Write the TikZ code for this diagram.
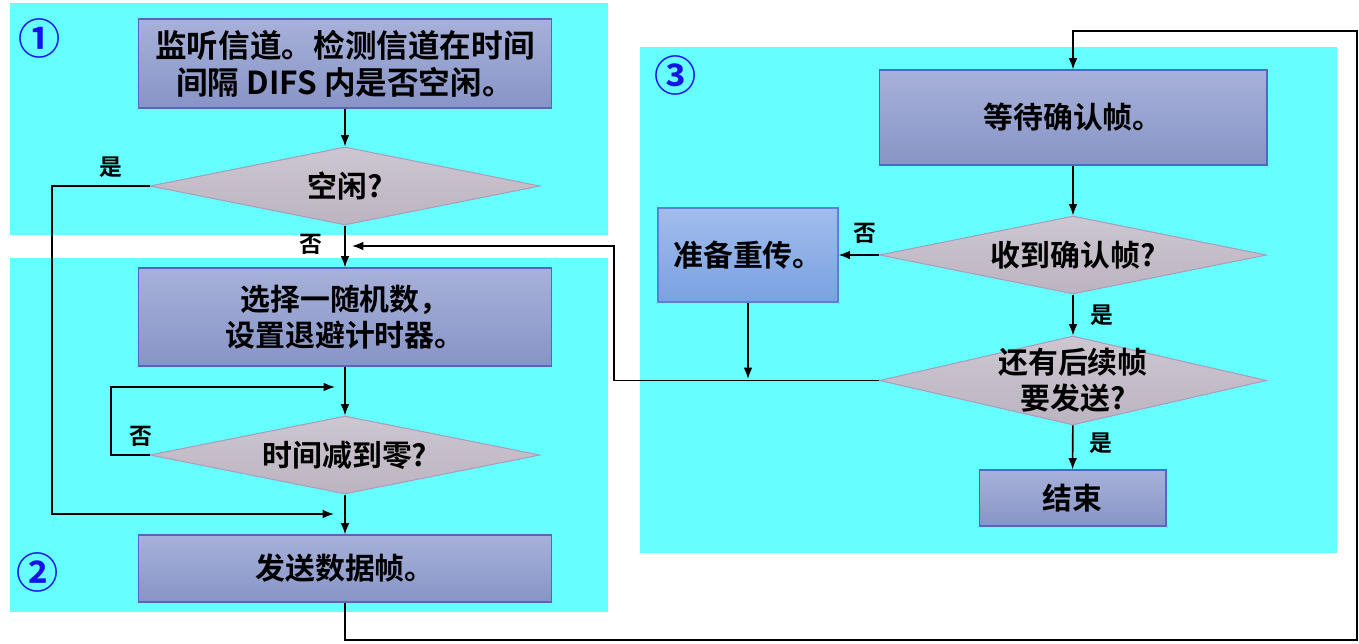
\documentclass[tikz,border=0pt]{standalone}
\usepackage{fontspec}
\setmainfont{Noto Sans CJK SC}[BoldFont={Noto Sans CJK SC Bold}]
\usepackage{xcolor}
\usepackage{tikz}
\usetikzlibrary{shapes.geometric, arrows.meta, positioning, calc}
\definecolor{PanelCyan}{HTML}{66FFFF}
\definecolor{BoxTop}{HTML}{A7B1D9}
\definecolor{BoxBottom}{HTML}{8794C6}
\definecolor{BoxLine}{HTML}{5566C0}
\definecolor{RetryTop}{HTML}{A2BDEB}
\definecolor{RetryBottom}{HTML}{7AA1E2}
\definecolor{RetryLine}{HTML}{5A80D8}
\definecolor{DecTop}{HTML}{CDC7D1}
\definecolor{DecBottom}{HTML}{BCB4C0}
\definecolor{DecLine}{HTML}{A99EBC}
\definecolor{NumBlue}{HTML}{1414E6}
\tikzset{
  panel/.style={fill=PanelCyan, draw=none},
  procbox/.style={rectangle, top color=BoxTop, bottom color=BoxBottom, draw=BoxLine, line width=0.6pt,
    align=center, inner sep=0pt, font=\fontsize{17}{20.5}\selectfont\bfseries},
  retrybox/.style={procbox, top color=RetryTop, bottom color=RetryBottom, draw=RetryLine},
  decbox/.style={diamond, top color=DecTop, bottom color=DecBottom, draw=DecLine, line width=0.6pt, inner sep=0pt},
  dectext/.style={align=center, font=\fontsize{17}{20.5}\selectfont\bfseries},
  yesno/.style={font=\fontsize{13}{15}\selectfont\bfseries},
  stepnum/.style={text=NumBlue, font=\fontsize{24}{26}\selectfont\bfseries},
  arr/.style={-{Latex[length=6.5pt,width=5pt]}, line width=0.9pt},
  wire/.style={line width=0.9pt}
}

\begin{document}
\begin{tikzpicture}[x=0.02cm, y=-0.02cm]
        \useasboundingbox (0,0) rectangle (1359,644);
        % Background panels
        \fill[panel] (10,3) rectangle (608,235);
        \fill[panel] (10,258) rectangle (608,612);
        \fill[panel] (640,47) rectangle (1337,553);
        \node[stepnum] (n1) at (40,38) {①};
        \node[stepnum] (n2) at (38,572) {②};
        \node[stepnum] (n3) at (676,75) {③};

        % Step 1 and 2 - sender side
        \node[procbox, minimum width=8.28cm, minimum height=1.78cm, font=\fontsize{18}{21}\selectfont\bfseries] (listen) at (345,63.5) {监听信道。检测信道在时间\\间隔 DIFS 内是否空闲。};
        \node[decbox, minimum width=7.8cm, minimum height=1.56cm, label={[dectext]center:空闲?}] (idle) at (345,186) {};
        \node[procbox, minimum width=8.28cm, minimum height=1.96cm] (backoff) at (345,317) {选择一随机数，\\设置退避计时器。};
        \node[decbox, minimum width=7.8cm, minimum height=1.56cm, label={[dectext]center:时间减到零?}] (zero) at (345,455) {};
        \node[procbox, minimum width=8.28cm, minimum height=1.34cm] (send) at (345,568.5) {发送数据帧。};

        % Step 3 - waiting for ACK
        \node[procbox, minimum width=7.76cm, minimum height=1.9cm] (wait) at (1073,117.5) {等待确认帧。};
        \node[decbox, minimum width=7.74cm, minimum height=1.56cm, label={[dectext]center:收到确认帧?}] (ack) at (1073,255) {};
        \node[retrybox, minimum width=3.6cm, minimum height=1.88cm] (retry) at (748,255) {准备重传。};
        \node[decbox, minimum width=7.74cm, minimum height=1.78cm, label={[dectext]center:还有后续帧\\要发送?}] (more) at (1073,380.5) {};
        \node[procbox, minimum width=3.74cm, minimum height=1.12cm] (done) at (1072.5,498) {结束};

        % Free ends of connectors
        \coordinate (idleIn) at (334,514);
        \coordinate (loopIn) at (335,387);
        \coordinate (retryIn) at (748,379);
        \coordinate (backIn) at (352,246);

        % Connectors
        \draw[arr] (listen) -- (idle);
        \draw[arr] (idle) -- node[yesno, left=9pt, pos=0.45] (no1) {否} (backoff);
        \draw[arr] (idle.west) -- (52,186) |- (idleIn);
        \node[yesno] (yes1) at (111,167) {是};
        \draw[arr] (backoff) -- (zero);
        \draw[arr] (zero.west) -- (111,455) |- (loopIn);
        \node[yesno] (no2) at (141,436) {否};
        \draw[arr] (zero) -- (send);
        \draw[arr] (send.south) -- (345,640) -| (1357,31) -| (wait.north);
        \draw[arr] (wait) -- (ack);
        \draw[arr] (ack.west) -- node[yesno, above=3pt, pos=0.35] (no3) {否} (retry.east);
        \draw[arr] (ack) -- node[yesno, right=6pt] (yes2) {是} (more);
        \draw[arr] (retry.south) -- (retryIn);
        \draw[arr] (more.west) -- (614,380.5) |- (backIn);
        \draw[arr] (more) -- node[yesno, right=6pt, pos=0.4] (yes3) {是} (done);
    \end{tikzpicture}
\end{document}
